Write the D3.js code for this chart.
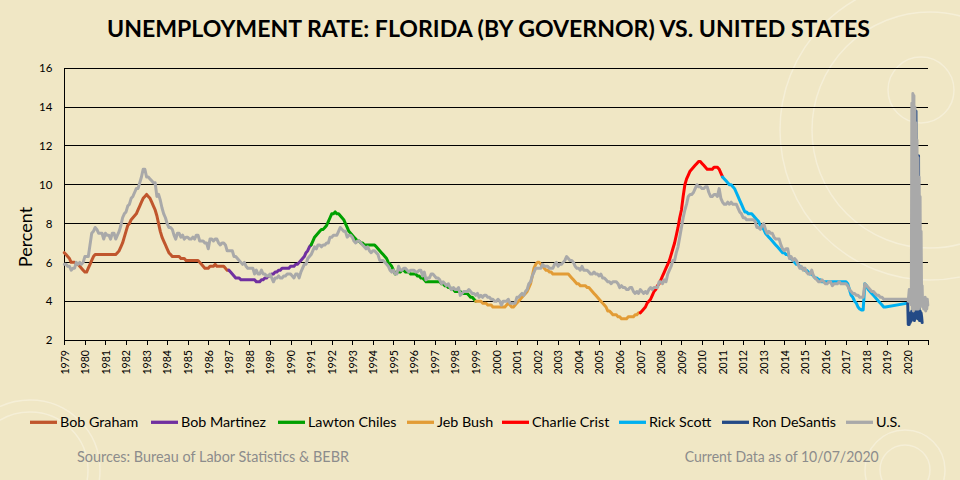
<!DOCTYPE html>
<html><head><meta charset="utf-8">
<script src="https://cdn.jsdelivr.net/npm/d3@7"></script>
<style>html,body{margin:0;padding:0;background:#F0E7C5;}svg{display:block;}</style>
</head><body>
<svg id="chart" width="960" height="480"></svg>
<script>
// ---------------- DATA ----------------
const titleText = "UNEMPLOYMENT RATE: FLORIDA (BY GOVERNOR) VS. UNITED STATES";
const yAxisTitle = "Percent";
const sourceText = "Sources: Bureau of Labor Statistics & BEBR";
const dateText = "Current Data as of 10/07/2020";
const yearLabels = ["1979","1980","1981","1982","1983","1984","1985","1986","1987","1988","1989","1990","1991","1992","1993","1994","1995","1996","1997","1998","1999","2000","2001","2002","2003","2004","2005","2006","2007","2008","2009","2010","2011","2012","2013","2014","2015","2016","2017","2018","2019","2020"];
const yTicks = [2,4,6,8,10,12,14,16];

// U.S. monthly rate, Jan 1979 - Dec 2018
const usRate = [
5.9,5.9,5.8,5.8,5.6,5.7,5.7,6.0,5.9,6.0,5.9,6.0,
6.3,6.3,6.3,6.9,7.5,7.6,7.8,7.7,7.5,7.5,7.5,7.2,
7.5,7.4,7.4,7.2,7.5,7.5,7.2,7.4,7.6,7.9,8.3,8.5,
8.6,8.9,9.0,9.3,9.4,9.6,9.8,9.8,10.1,10.4,10.8,10.8,
10.4,10.4,10.3,10.2,10.1,10.1,9.4,9.5,9.2,8.8,8.5,8.3,
8.0,7.8,7.8,7.7,7.4,7.2,7.5,7.5,7.3,7.4,7.2,7.3,
7.3,7.2,7.2,7.3,7.2,7.4,7.4,7.1,7.1,7.1,7.0,7.0,
6.7,7.2,7.2,7.1,7.2,7.2,7.0,6.9,7.0,7.0,6.9,6.6,
6.6,6.6,6.6,6.3,6.3,6.2,6.1,6.0,5.9,6.0,5.8,5.7,
5.7,5.7,5.7,5.4,5.6,5.4,5.4,5.6,5.4,5.4,5.3,5.3,
5.4,5.2,5.0,5.2,5.2,5.3,5.2,5.2,5.3,5.3,5.4,5.4,
5.4,5.3,5.2,5.4,5.4,5.2,5.5,5.7,5.9,5.9,6.2,6.3,
6.4,6.6,6.8,6.7,6.9,6.9,6.8,6.9,6.9,7.0,7.0,7.3,
7.3,7.4,7.4,7.4,7.6,7.8,7.7,7.6,7.6,7.3,7.4,7.4,
7.3,7.1,7.0,7.1,7.1,7.0,6.9,6.8,6.7,6.8,6.6,6.5,
6.6,6.6,6.5,6.4,6.1,6.1,6.1,6.0,5.9,5.8,5.6,5.5,
5.6,5.4,5.4,5.8,5.6,5.6,5.7,5.7,5.6,5.5,5.6,5.6,
5.6,5.5,5.5,5.6,5.6,5.3,5.5,5.1,5.2,5.2,5.4,5.4,
5.3,5.2,5.2,5.1,4.9,5.0,4.9,4.8,4.9,4.7,4.6,4.7,
4.6,4.6,4.7,4.3,4.4,4.5,4.5,4.5,4.6,4.5,4.4,4.4,
4.3,4.4,4.2,4.3,4.2,4.3,4.3,4.2,4.2,4.1,4.1,4.0,
4.0,4.1,4.0,3.8,4.0,4.0,4.0,4.1,3.9,3.9,3.9,3.9,
4.2,4.2,4.3,4.4,4.3,4.5,4.6,4.9,5.0,5.3,5.5,5.7,
5.7,5.7,5.7,5.9,5.8,5.8,5.8,5.7,5.7,5.7,5.9,6.0,
5.8,5.9,5.9,6.0,6.1,6.3,6.2,6.1,6.1,6.0,5.8,5.7,
5.7,5.6,5.8,5.6,5.6,5.6,5.5,5.4,5.4,5.5,5.4,5.4,
5.3,5.4,5.2,5.2,5.1,5.0,5.0,4.9,5.0,5.0,5.0,4.9,
4.7,4.8,4.7,4.7,4.6,4.6,4.7,4.7,4.5,4.4,4.5,4.4,
4.6,4.5,4.4,4.5,4.4,4.6,4.7,4.6,4.7,4.7,4.7,5.0,
5.0,4.9,5.1,5.0,5.4,5.6,5.8,6.1,6.1,6.5,6.8,7.3,
7.8,8.3,8.7,9.0,9.4,9.5,9.5,9.6,9.8,10.0,9.9,9.9,
9.8,9.8,9.9,9.9,9.6,9.4,9.4,9.5,9.5,9.4,9.8,9.3,
9.1,9.0,9.0,9.1,9.0,9.1,9.0,9.0,9.0,8.8,8.6,8.5,
8.3,8.3,8.2,8.2,8.2,8.2,8.2,8.1,7.8,7.8,7.7,7.9,
8.0,7.7,7.5,7.6,7.5,7.5,7.3,7.2,7.2,7.2,6.9,6.7,
6.6,6.7,6.7,6.2,6.3,6.1,6.2,6.1,5.9,5.7,5.8,5.6,
5.7,5.5,5.4,5.4,5.6,5.3,5.2,5.1,5.0,5.0,5.1,5.0,
4.9,4.9,5.0,5.0,4.8,4.9,4.9,4.9,5.0,4.9,4.9,4.9,
4.9,4.8,4.6,4.5,4.4,4.4,4.3,4.3,4.2,4.2,4.2,4.9,
4.8,4.7,4.6,4.5,4.5,4.4,4.3,4.3,4.2,4.2,4.1,4.1
];

// Florida monthly rate, Jan 1979 - Dec 2018
const flRate = [
6.5,6.4,6.3,6.2,6.0,6.0,6.0,5.9,5.9,5.8,5.7,5.6,
5.5,5.5,5.7,5.9,6.1,6.3,6.4,6.4,6.4,6.4,6.4,6.4,
6.4,6.4,6.4,6.4,6.4,6.4,6.4,6.5,6.6,6.8,7.0,7.3,
7.6,7.9,8.0,8.2,8.3,8.4,8.5,8.7,8.9,9.1,9.3,9.4,
9.5,9.4,9.3,9.1,8.9,8.7,8.4,8.0,7.6,7.3,7.1,6.9,
6.7,6.5,6.4,6.3,6.3,6.3,6.3,6.3,6.2,6.2,6.2,6.1,
6.1,6.1,6.1,6.1,6.1,6.1,6.1,6.0,5.9,5.8,5.7,5.7,
5.7,5.8,5.8,5.8,5.9,5.8,5.8,5.8,5.8,5.8,5.7,5.6,
5.6,5.5,5.4,5.3,5.2,5.2,5.2,5.1,5.1,5.1,5.1,5.1,
5.1,5.1,5.1,5.1,5.0,5.0,5.0,5.1,5.1,5.2,5.2,5.3,
5.3,5.4,5.4,5.5,5.5,5.6,5.6,5.7,5.7,5.7,5.7,5.7,
5.8,5.8,5.8,5.9,5.9,6.0,6.1,6.2,6.3,6.5,6.6,6.8,
6.9,7.1,7.3,7.4,7.5,7.6,7.7,7.7,7.8,7.9,8.1,8.3,
8.5,8.5,8.6,8.5,8.5,8.4,8.3,8.2,8.0,7.8,7.6,7.5,
7.4,7.3,7.2,7.1,7.1,7.0,7.0,6.9,6.9,6.9,6.9,6.9,
6.9,6.9,6.8,6.7,6.6,6.5,6.4,6.3,6.2,6.0,5.9,5.8,
5.6,5.4,5.5,5.5,5.5,5.6,5.6,5.5,5.5,5.5,5.4,5.4,
5.4,5.4,5.3,5.3,5.2,5.2,5.1,5.0,5.0,5.0,5.0,5.0,
5.0,5.0,5.0,5.0,4.9,4.9,4.8,4.8,4.7,4.7,4.6,4.6,
4.5,4.5,4.5,4.5,4.4,4.4,4.4,4.4,4.3,4.2,4.2,4.1,
4.0,4.0,4.0,4.0,3.9,3.9,3.9,3.8,3.8,3.8,3.7,3.7,
3.7,3.7,3.7,3.7,3.7,3.7,3.8,3.9,3.8,3.7,3.7,3.8,
3.9,4.0,4.1,4.2,4.3,4.4,4.5,4.7,4.9,5.3,5.7,5.9,
6.0,6.0,5.9,5.8,5.7,5.6,5.6,5.5,5.5,5.4,5.4,5.4,
5.4,5.4,5.4,5.4,5.4,5.4,5.4,5.3,5.2,5.1,5.0,4.9,
4.9,4.8,4.8,4.8,4.8,4.7,4.7,4.6,4.5,4.4,4.3,4.2,
4.1,4.0,3.9,3.8,3.7,3.5,3.5,3.4,3.3,3.3,3.3,3.2,
3.2,3.1,3.1,3.1,3.1,3.2,3.2,3.2,3.2,3.3,3.3,3.4,
3.4,3.5,3.6,3.7,3.9,4.0,4.1,4.3,4.5,4.6,4.8,4.9,
5.1,5.3,5.5,5.7,5.9,6.1,6.4,6.7,7.0,7.4,7.8,8.3,
8.7,9.4,10.0,10.3,10.5,10.7,10.8,10.9,11.0,11.1,11.2,11.2,
11.1,11.0,10.9,10.8,10.8,10.8,10.8,10.9,10.9,10.9,10.8,10.6,
10.4,10.3,10.2,10.1,10.0,10.0,9.9,9.8,9.6,9.4,9.2,9.0,
8.8,8.6,8.6,8.5,8.5,8.5,8.4,8.3,8.2,8.1,7.9,7.8,
7.7,7.5,7.4,7.3,7.2,7.1,7.0,6.9,6.8,6.7,6.6,6.5,
6.5,6.4,6.4,6.3,6.2,6.1,6.0,5.9,5.9,5.8,5.7,5.7,
5.6,5.6,5.5,5.4,5.4,5.3,5.2,5.2,5.1,5.1,5.0,5.0,
5.0,5.0,5.0,5.0,5.0,5.0,5.0,5.0,5.0,5.0,5.0,5.0,
5.0,4.9,4.6,4.3,4.2,4.0,3.9,3.7,3.6,3.55,3.55,4.9,
4.8,4.6,4.5,4.4,4.3,4.2,4.1,4.0,3.9,3.8,3.7,3.7
];

// 2020 readings (40 per year, starting Jan 2020)
const us2020 = [4.1,4.0,4.3,4.6,4.2,3.9,4.5,3.8,14.2,3.6,14.7,3.5,14.6,3.6,14.0,3.7,13.2,3.6,12.3,3.8,11.4,3.6,10.4,3.7,9.4,3.8,7.6,3.9,4.8,3.7,4.0,3.6,4.1,3.7,4.2,3.5,3.9,3.6,4.1,3.8];
const fl2020 = [3.9,2.8,3.3,2.8,3.2,2.9,3.4,3.0,3.5,3.1,3.6,3.1,3.4,3.0,3.5,3.3,13.8,3.2,3.6,3.1,3.4,11.5,3.3,3.0,3.5,3.1,3.4,3.2,2.9];

const governors = ["Bob Graham","Bob Martinez","Lawton Chiles","Jeb Bush","Charlie Crist","Rick Scott","Ron DeSantis"];
const govStartMonth = [0,96,144,240,336,384]; // month index from Jan 1979; DeSantis uses the 2020 readings
const govColors = ["#C0562D","#7030A0","#00A000","#E29C36","#FF0000","#00B0F0","#244A86"];
const usName = "U.S.";
const usColor = "#A9A9A9";

// ---------------- CHART ----------------
const svg = d3.select("#chart");
const W = 960, H = 480;
const FONT = "Lato, 'Open Sans', sans-serif";

svg.append("rect").attr("width",W).attr("height",H).attr("fill","#F0E7C5");

// faint background decoration
const deco = svg.append("g").attr("fill","none").attr("stroke","#F7F1DC").attr("stroke-width",1.5).attr("opacity",0.8);
[[921,90,33],[930,130,118],[930,130,150],[30,470,70],[30,470,58],[905,470,25],[905,470,40]].forEach(c=>{
  deco.append("circle").attr("cx",c[0]).attr("cy",c[1]).attr("r",c[2]);
});

const x = d3.scaleLinear().domain([1979, 2021]).range([64.3, 928.3]);
const y = d3.scaleLinear().domain([2, 16]).range([340, 68.3]);

// gridlines
svg.append("g").selectAll("line").data(yTicks.filter(v => v > 2)).join("line")
  .attr("x1", x(1979)).attr("x2", x(2021))
  .attr("y1", d => y(d)).attr("y2", d => y(d))
  .attr("stroke","#000").attr("stroke-width",1).attr("shape-rendering","crispEdges");

// y axis
const yAx = svg.append("g").attr("transform",`translate(${x(1979)},0)`)
  .call(d3.axisLeft(y).tickValues(yTicks).tickSize(0).tickPadding(12).tickFormat(d3.format("d")));
yAx.select(".domain").attr("stroke","#000").attr("shape-rendering","crispEdges");
yAx.selectAll("text").attr("font-family",FONT).attr("font-size",11.5).attr("fill","#000");

// x axis
const tickYears = d3.range(1979, 2022);
const xAx = svg.append("g").attr("transform",`translate(0,${y(2)})`)
  .call(d3.axisBottom(x).tickValues(tickYears).tickSize(5).tickSizeOuter(0)
    .tickFormat((d,i) => yearLabels[i] || ""));
xAx.selectAll("line, .domain").attr("stroke","#000").attr("shape-rendering","crispEdges");
xAx.selectAll("text").attr("font-family",FONT).attr("font-size",10.6).attr("fill","#000")
  .attr("transform","rotate(-90)").attr("x",-10).attr("y",0).attr("dy","0.35em").attr("text-anchor","end");

// series points
const monthly = arr => arr.map((v,i) => ({t: 1979 + i/12, v}));
const y2020 = arr => arr.map((v,i) => ({t: 2020 + i/40, v}));
const flPts = monthly(flRate);
const fl20Pts = y2020(fl2020);
const usPts = monthly(usRate).concat(y2020(us2020));

const line = d3.line().x(d => x(d.t)).y(d => y(d.v));
const gLines = svg.append("g").attr("fill","none").attr("stroke-width",3)
  .attr("stroke-linejoin","round").attr("stroke-linecap","round");

governors.forEach((g,k) => {
  let pts;
  if (k < govStartMonth.length - 1) {
    pts = flPts.slice(govStartMonth[k], govStartMonth[k+1] + 1);
  } else if (k === govStartMonth.length - 1) {
    pts = flPts.slice(govStartMonth[k]).concat([fl20Pts[0]]);
  } else {
    pts = fl20Pts;
  }
  gLines.append("path").attr("d", line(pts)).attr("stroke", govColors[k]);
});
gLines.append("path").attr("d", line(usPts)).attr("stroke", usColor);

// title
svg.append("text").attr("x",107).attr("y",37.3).attr("font-family",FONT).attr("font-weight","bold")
  .attr("font-size",22).attr("fill","#000").attr("textLength",763).attr("lengthAdjust","spacingAndGlyphs")
  .text(titleText);

// y axis title
svg.append("text").attr("transform","translate(31.5,237) rotate(-90)").attr("text-anchor","middle")
  .attr("font-family",FONT).attr("font-size",18).attr("fill","#000").text(yAxisTitle);

// legend
const legendX = [30,151,278,407,502,619,722,846];
const legendItems = governors.map((g,k)=>({name:g,color:govColors[k]})).concat([{name:usName,color:usColor}]);
const lg = svg.append("g");
legendItems.forEach((it,i) => {
  const x0 = legendX[i];
  lg.append("line").attr("x1",x0).attr("x2",x0+27).attr("y1",422.3).attr("y2",422.3)
    .attr("stroke",it.color).attr("stroke-width",3.3);
  lg.append("text").attr("x",x0+30).attr("y",427).attr("font-family",FONT).attr("font-size",14.3)
    .attr("fill","#000").text(it.name);
});

// footer
svg.append("text").attr("x",77).attr("y",462.3).attr("font-family",FONT).attr("font-size",14.5)
  .attr("fill","#8C8C8C").attr("textLength",272).attr("lengthAdjust","spacingAndGlyphs").text(sourceText);
svg.append("text").attr("x",684.7).attr("y",462.3).attr("font-family",FONT).attr("font-size",14.5)
  .attr("fill","#8C8C8C").attr("textLength",194).attr("lengthAdjust","spacingAndGlyphs").text(dateText);
</script>
</body></html>
